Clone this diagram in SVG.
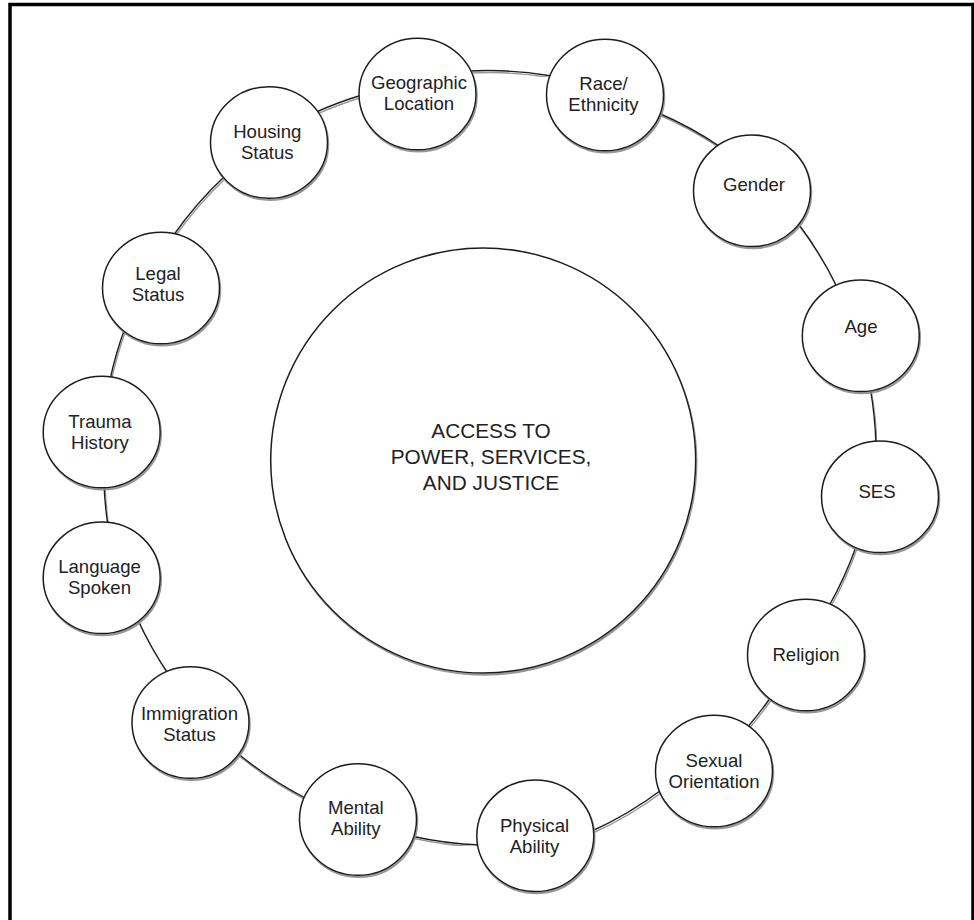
<svg xmlns="http://www.w3.org/2000/svg" width="974" height="920" viewBox="0 0 974 920">
  <defs>
    <filter id="shade" x="-10%" y="-10%" width="120%" height="120%">
      <feDropShadow dx="1" dy="2" stdDeviation="0.6" flood-color="#8a8a8a" flood-opacity="0.9"/>
    </filter>
    <style>
      .frame { fill: none; stroke: #000; stroke-width: 3.5; }
      .node ellipse, .hub circle { fill: #fff; stroke: #1c1c1c; stroke-width: 1.5; filter: url(#shade); }
      .links path { fill: none; stroke: #1c1c1c; stroke-width: 1.4; filter: url(#shade); }
      text { font-family: "Liberation Sans", Arial, Helvetica, sans-serif; font-size: 18.6px; fill: #222; text-anchor: middle; }
      .hub text { font-size: 20.8px; }
    </style>
  </defs>

  <rect width="974" height="920" fill="#fff"/>
  <rect class="frame" x="10" y="4.5" width="963" height="1000"/>

  <!-- ring of arcs linking neighbouring factors -->
  <g id="links" class="links">
    <path d="M 314 113 A 380 380 0 0 1 362 95"/>
    <path d="M 468 71 A 380 380 0 0 1 552 76"/>
    <path d="M 656 112 A 380 380 0 0 1 722 148"/>
    <path d="M 797 222 A 380 380 0 0 1 838 289"/>
    <path d="M 870 387 A 380 380 0 0 1 876 446"/>
    <path d="M 857 544 A 380 380 0 0 1 829 606"/>
    <path d="M 773 694 A 380 380 0 0 1 746 729"/>
    <path d="M 664 788 A 380 380 0 0 1 590 832"/>
    <path d="M 480 845 A 380 380 0 0 1 411 836"/>
    <path d="M 307 799 A 380 380 0 0 1 236 752"/>
    <path d="M 169 675 A 380 380 0 0 1 137 618"/>
    <path d="M 108 526 A 380 380 0 0 1 104 483"/>
    <path d="M 110 380 A 380 380 0 0 1 125 328"/>
    <path d="M 173 236 A 380 380 0 0 1 225 176"/>
  </g>

  <g id="hub" class="hub">
    <circle cx="483.2" cy="460.5" r="212.5"/>
    <text x="491" y="437.7">ACCESS TO</text>
    <text x="491" y="463.5">POWER, SERVICES,</text>
    <text x="491" y="490">AND JUSTICE</text>
  </g>

  <g id="geographic-location" class="node">
    <ellipse cx="417.5" cy="94" rx="58.5" ry="55.8"/>
    <text x="419" y="89">Geographic</text>
    <text x="419" y="110">Location</text>
  </g>
  <g id="race-ethnicity" class="node">
    <ellipse cx="605" cy="95" rx="58.5" ry="55.8"/>
    <text x="603.5" y="89.5">Race/</text>
    <text x="603.5" y="110.5">Ethnicity</text>
  </g>
  <g id="gender" class="node">
    <ellipse cx="752" cy="190.8" rx="58.5" ry="55.8"/>
    <text x="754" y="190.7">Gender</text>
  </g>
  <g id="age" class="node">
    <ellipse cx="860.8" cy="335.8" rx="58.5" ry="55.8"/>
    <text x="861" y="333.3">Age</text>
  </g>
  <g id="ses" class="node">
    <ellipse cx="880" cy="496.8" rx="58.5" ry="55.8"/>
    <text x="877" y="497.7">SES</text>
  </g>
  <g id="religion" class="node">
    <ellipse cx="806" cy="655" rx="58.5" ry="55.8"/>
    <text x="806" y="661">Religion</text>
  </g>
  <g id="sexual-orientation" class="node">
    <ellipse cx="714" cy="771" rx="58.5" ry="55.8"/>
    <text x="714" y="766.5">Sexual</text>
    <text x="714" y="787.5">Orientation</text>
  </g>
  <g id="physical-ability" class="node">
    <ellipse cx="535.3" cy="835.8" rx="58.5" ry="55.8"/>
    <text x="534.5" y="832.3">Physical</text>
    <text x="534.5" y="853.3">Ability</text>
  </g>
  <g id="mental-ability" class="node">
    <ellipse cx="358" cy="819.5" rx="58.5" ry="55.8"/>
    <text x="355.8" y="814">Mental</text>
    <text x="355.8" y="835">Ability</text>
  </g>
  <g id="immigration-status" class="node">
    <ellipse cx="190.5" cy="722.5" rx="58.5" ry="55.8"/>
    <text x="189.5" y="720">Immigration</text>
    <text x="189.5" y="741">Status</text>
  </g>
  <g id="language-spoken" class="node">
    <ellipse cx="101.7" cy="577.8" rx="58.5" ry="55.8"/>
    <text x="99.5" y="573.3">Language</text>
    <text x="99.5" y="594.3">Spoken</text>
  </g>
  <g id="trauma-history" class="node">
    <ellipse cx="101.7" cy="432" rx="58.5" ry="55.8"/>
    <text x="100" y="427.7">Trauma</text>
    <text x="100" y="448.7">History</text>
  </g>
  <g id="legal-status" class="node">
    <ellipse cx="161" cy="288" rx="58.5" ry="55.8"/>
    <text x="158" y="279.7">Legal</text>
    <text x="158" y="300.7">Status</text>
  </g>
  <g id="housing-status" class="node">
    <ellipse cx="269" cy="142.5" rx="58.5" ry="55.8"/>
    <text x="267.3" y="137.9">Housing</text>
    <text x="267.3" y="158.9">Status</text>
  </g>
</svg>
